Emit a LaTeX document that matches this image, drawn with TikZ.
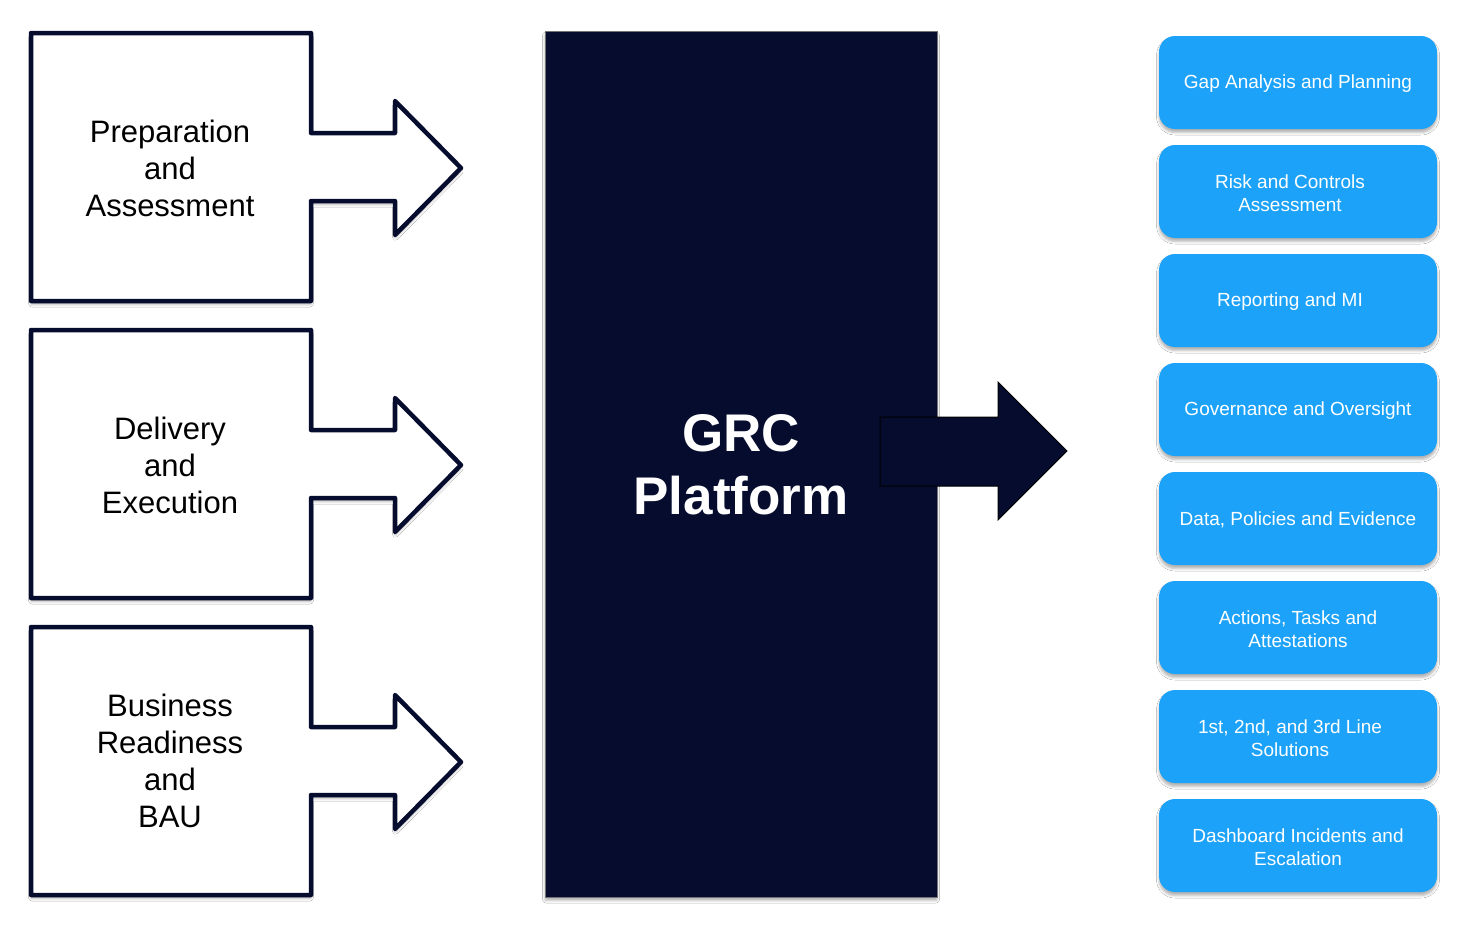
\documentclass[tikz,border=0pt]{standalone}
\usepackage{fontspec}
\setmainfont{Liberation Sans}
\usetikzlibrary{shadows.blur}
\definecolor{navy}{HTML}{060C2E}
\definecolor{sky}{HTML}{1CA2F8}
\tikzset{
  softshadow/.style={blur shadow={shadow xshift=0pt,shadow yshift=-3.5pt,shadow blur radius=2.5pt,shadow blur extra rounding=1pt,shadow opacity=30}},
  phaseshape/.style={draw=navy,line width=4.5pt,line join=round,fill=white,softshadow},
  phasetext/.style={align=center,font=\fontsize{31}{37}\selectfont,text=black,inner sep=0pt},
  platform/.style={draw=black!55,line width=1pt,fill=navy,softshadow},
  platformtext/.style={align=center,font=\fontsize{53}{63}\selectfont\bfseries,text=white,inner sep=0pt},
  bigarrow/.style={draw=black,line width=1pt,fill=navy,line join=miter},
  outbox/.style={fill=sky,rounded corners=16pt,minimum width=278pt,minimum height=93pt,inner sep=0pt,softshadow},
  outtext/.style={align=center,font=\fontsize{19}{23}\selectfont,text=white,inner sep=0pt}
}
\begin{document}
\begin{tikzpicture}[x=1pt,y=-1pt]
\useasboundingbox[fill=white] (0,0) rectangle (1480,926);

% left phase shapes
\foreach \dy in {0,297,594}{
  \begin{scope}[yshift=-\dy pt]
    \path[phaseshape] (31,33) -- (311,33) -- (311,133) -- (395,133) -- (395,101)
      -- (461,168) -- (395,235) -- (395,201) -- (311,201) -- (311,301) -- (31,301) -- cycle;
  \end{scope}
}
\node[phasetext] (prep) at (170,168) {Preparation\\and\\Assessment};
\node[phasetext] (deliv) at (170,465) {Delivery\\and\\Execution};
\node[phasetext] (bau) at (170,761) {Business\\Readiness\\and\\BAU};

% central platform
\path[platform] (545,31) rectangle (937,897);
\node[platformtext] (grc) at (741,465) {GRC\\Platform};

% big right arrow
\path[bigarrow] (880,417) -- (998,417) -- (998,382) -- (1067,451) -- (998,520)
  -- (998,486) -- (880,486) -- cycle;

% output boxes
\foreach \i/\dx/\txt in {
  0/0/{Gap Analysis and Planning},
  1/-8/{Risk and Controls\\Assessment},
  2/-8/{Reporting and MI},
  3/0/{Governance and Oversight},
  4/0/{Data, Policies and Evidence},
  5/0/{Actions, Tasks and\\Attestations},
  6/-8/{1st, 2nd, and 3rd Line\\Solutions},
  7/0/{Dashboard Incidents and\\Escalation}}{
  \node[outbox] (box\i) at (1298,{82.5+109*\i}) {};
  \node[outtext] (lab\i) at ([xshift=\dx pt,yshift=-1.5pt]box\i.center) {\txt};
}
\end{tikzpicture}
\end{document}
